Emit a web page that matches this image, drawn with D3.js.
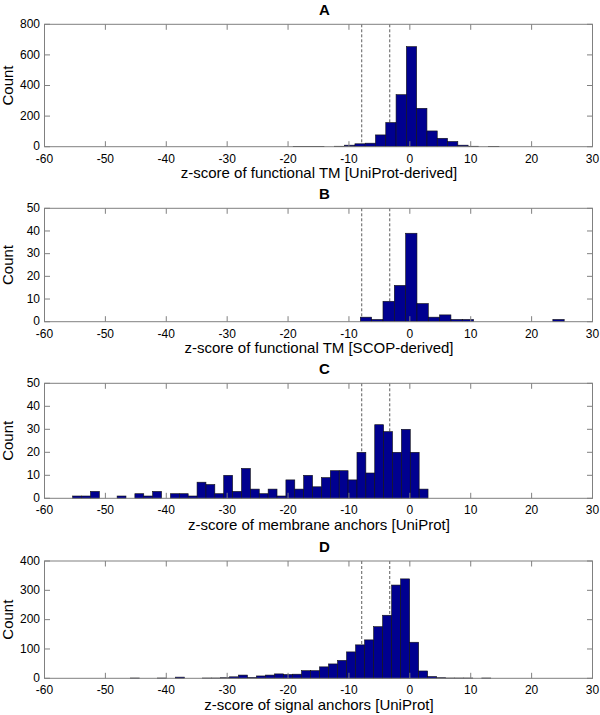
<!DOCTYPE html>
<html><head><meta charset="utf-8">
<script src="https://cdn.jsdelivr.net/npm/d3@7"></script>
<style>body{margin:0;background:#fff}svg{display:block}</style>
</head><body>
<script>
// ---- data ----
const xTicks = [-60,-50,-40,-30,-20,-10,0,10,20,30];
const xDomain = [-60, 30];
const thresholds = [-7.9, -3.3];
const titles = ["A","B","C","D"];
const xLabels = [
  "z-score of functional TM [UniProt-derived]",
  "z-score of functional TM [SCOP-derived]",
  "z-score of membrane anchors [UniProt]",
  "z-score of signal anchors [UniProt]"
];
const yTicksA = [0,200,400,600,800];
const yTicksB = [0,10,20,30,40,50];
const yTicksC = [0,10,20,30,40,50];
const yTicksD = [0,100,200,300,400];

const binStartA = -19.16, binWidthA = 1.69;
const countsA = [1,1,1,0,3,10,19,23,77,158,340,654,251,103,55,34,10,3,0,2];

const binStartB = -8.13, binWidthB = 1.86;
const countsB = [2,1,9,16,39,8,2,3,1,1,0,0,0,0,0,0,0,1];

const binStartC = -55.37, binWidthC = 1.459;
const countsC = [1,1,3,0,0,1,0,2,1,3,0,2,2,1,7,6,2,10,3,13,4,
                 2,4,1,8,4,10,5,9,12,12,8,20,11,32,29,20,30,20,4];

const binStartD = -45.91, binWidthD = 1.48;
const countsD = [1,0,0,1,0,4,0,0,1,1,2,5,11,3,8,11,15,13,14,26,26,39,49,61,90,114,131,176,215,318,339,
                 123,25,6,2,1,1,1,0,1,0];

// ---- layout ----
const W = 600, H = 715;
const layout = [
  {top:24.3, bottom:146.7},
  {top:208.3, bottom:321.7},
  {top:383.3, bottom:498.3},
  {top:561, bottom:678.3}
];
const series = [
  {start:binStartA, width:binWidthA, counts:countsA, yTicks:yTicksA},
  {start:binStartB, width:binWidthB, counts:countsB, yTicks:yTicksB},
  {start:binStartC, width:binWidthC, counts:countsC, yTicks:yTicksC},
  {start:binStartD, width:binWidthD, counts:countsD, yTicks:yTicksD}
];
const FONT = "'Liberation Sans', Arial, Helvetica, sans-serif";
const boxColor = "#808080";
const tickLen = 5.5;

const svg = d3.select("body").append("svg").attr("width", W).attr("height", H)
  .style("font-family", FONT);

const x = d3.scaleLinear().domain(xDomain).range([44.5, 592.5]);

series.forEach((s, k) => {
  const L = layout[k];
  const yt = s.yTicks;
  const y = d3.scaleLinear().domain([yt[0], yt[yt.length-1]]).range([L.bottom, L.top]);
  const g = svg.append("g");

  // threshold dashed lines (behind bars)
  g.selectAll("line.thr").data(thresholds).enter().append("line")
    .attr("x1", d => x(d)).attr("x2", d => x(d))
    .attr("y1", L.top).attr("y2", L.bottom)
    .attr("stroke", "#333").attr("stroke-width", 0.8)
    .attr("stroke-dasharray", "3,2");

  // bars
  const bins = s.counts.map((c, i) => ({x0: s.start + i*s.width, x1: s.start + (i+1)*s.width, c}))
    .filter(d => d.c > 0);
  g.selectAll("rect.bar").data(bins).enter().append("rect")
    .attr("x", d => x(d.x0)).attr("width", d => x(d.x1) - x(d.x0))
    .attr("y", d => y(d.c)).attr("height", d => y(0) - y(d.c))
    .attr("fill", "#00008f").attr("stroke", "#111").attr("stroke-width", 0.6);

  // box
  g.append("rect").attr("x", x(xDomain[0])).attr("y", L.top)
    .attr("width", x(xDomain[1]) - x(xDomain[0])).attr("height", L.bottom - L.top)
    .attr("fill", "none").attr("stroke", boxColor).attr("stroke-width", 1);

  // x ticks (inside, bottom and top)
  xTicks.forEach(t => {
    g.append("line").attr("x1", x(t)).attr("x2", x(t)).attr("y1", L.bottom).attr("y2", L.bottom - tickLen)
      .attr("stroke", boxColor);
    g.append("line").attr("x1", x(t)).attr("x2", x(t)).attr("y1", L.top).attr("y2", L.top + tickLen)
      .attr("stroke", boxColor);
  });
  g.selectAll("text.xt").data(xTicks).enter().append("text")
    .attr("x", d => x(d)).attr("y", L.bottom + 16)
    .attr("text-anchor", "middle").attr("font-size", 12).attr("fill", "#000")
    .text(d => d);

  // y ticks (inside, left and right)
  yt.forEach(t => {
    g.append("line").attr("x1", x(xDomain[0])).attr("x2", x(xDomain[0]) + tickLen).attr("y1", y(t)).attr("y2", y(t))
      .attr("stroke", boxColor);
    g.append("line").attr("x1", x(xDomain[1])).attr("x2", x(xDomain[1]) - tickLen).attr("y1", y(t)).attr("y2", y(t))
      .attr("stroke", boxColor);
  });
  g.selectAll("text.yt").data(yt).enter().append("text")
    .attr("x", x(xDomain[0]) - 4.5).attr("y", d => y(d))
    .attr("dy", "0.3em")
    .attr("text-anchor", "end").attr("font-size", 12).attr("fill", "#000")
    .text(d => d);

  // title
  g.append("text").attr("x", 324.5).attr("y", L.top - 9.5)
    .attr("text-anchor", "middle").attr("font-size", 15).attr("font-weight", "bold")
    .text(titles[k]);

  // x label
  g.append("text").attr("x", 319).attr("y", L.bottom + 31.5)
    .attr("text-anchor", "middle").attr("font-size", 15)
    .text(xLabels[k]);

  // y label
  g.append("text").attr("transform", `translate(13,${(L.top + L.bottom)/2}) rotate(-90)`)
    .attr("text-anchor", "middle").attr("font-size", 15)
    .text("Count");
});
</script>
</body></html>
